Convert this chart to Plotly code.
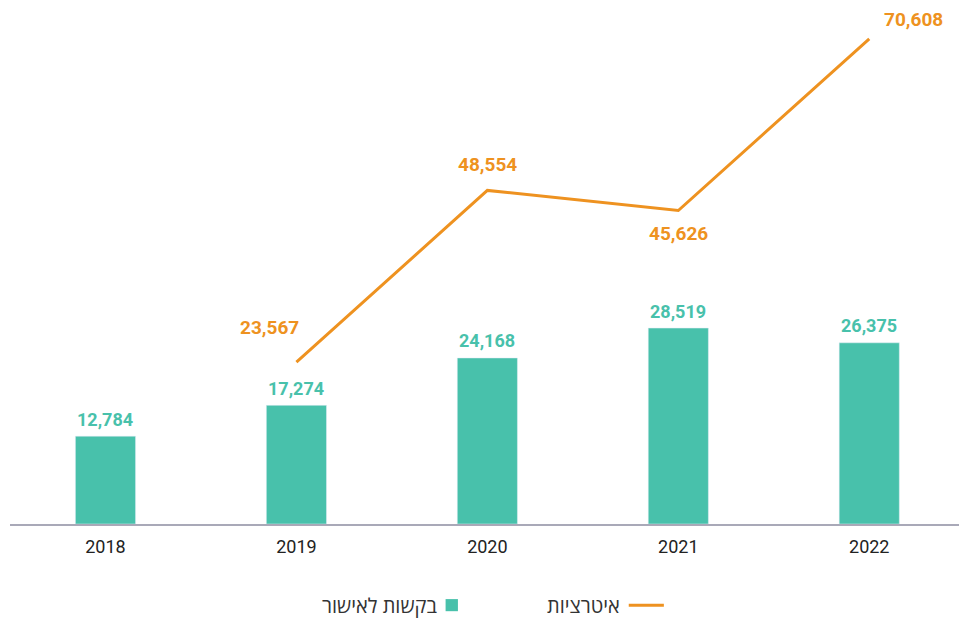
import plotly.graph_objects as go

years = ["2018", "2019", "2020", "2021", "2022"]
requests = [12784, 17274, 24168, 28519, 26375]
iter_years = ["2019", "2020", "2021", "2022"]
iterations = [23567, 48554, 45626, 70608]

bar_name = "בקשות לאישור"
line_name = "איטרציות"

TEAL = "#48C1AB"
ORANGE = "#EE9220"

fig = go.Figure()
fig.add_trace(go.Bar(
    x=years, y=requests, name=bar_name, marker_color=TEAL, width=0.315,
    showlegend=False,
))
fig.add_trace(go.Scatter(
    x=iter_years, y=iterations, name=line_name, mode="lines",
    line=dict(color=ORANGE, width=3), showlegend=False,
))

# bar labels
for i, yv in enumerate(requests):
    fig.add_annotation(
        x=i, y=yv, text=f"{yv:,}", showarrow=False, yshift=17,
        xanchor="center", yanchor="middle",
        font=dict(family="Roboto", size=18, color=TEAL, weight="bold"),
    )

# line labels
offsets = [(-27, 35), (0, 26), (0, -23), (44, 19)]
for xv, yv, (dx, dy) in zip(iter_years, iterations, offsets):
    fig.add_annotation(
        x=years.index(xv), y=yv, text=f"{yv:,}", showarrow=False, xshift=dx, yshift=dy,
        xanchor="center", yanchor="middle",
        font=dict(family="Roboto", size=19, color=ORANGE, weight="bold"),
    )

# custom RTL legend
fig.add_shape(type="line", xref="paper", yref="paper", x0=0.652, x1=0.689,
              y0=-0.161, y1=-0.161, line=dict(color=ORANGE, width=3))
fig.add_annotation(xref="paper", yref="paper", x=0.645, y=-0.161, text=line_name,
                   showarrow=False, xanchor="right", yanchor="middle",
                   font=dict(family="Open Sans", size=20, color="#333333"))
fig.add_shape(type="rect", xref="paper", yref="paper", x0=0.459, x1=0.472,
              y0=-0.173, y1=-0.149, line=dict(width=0), fillcolor=TEAL)
fig.add_annotation(xref="paper", yref="paper", x=0.452, y=-0.161, text=bar_name,
                   showarrow=False, xanchor="right", yanchor="middle",
                   font=dict(family="Open Sans", size=20, color="#333333"))

fig.update_layout(
    width=959, height=618,
    margin=dict(l=10, r=0, t=20, b=94),
    plot_bgcolor="white", paper_bgcolor="white",
    showlegend=False,
    xaxis=dict(type="category", range=[-0.5, 4.47], showgrid=False,
               showline=True, linecolor="#A9A9B8", linewidth=1.5,
               ticks="", ticklabelstandoff=6,
               tickfont=dict(family="Roboto", size=18, color="#222222")),
    yaxis=dict(range=[0, 73360], visible=False, showgrid=False, zeroline=False),
    bargap=0.5,
)

fig.write_html("out.html")
